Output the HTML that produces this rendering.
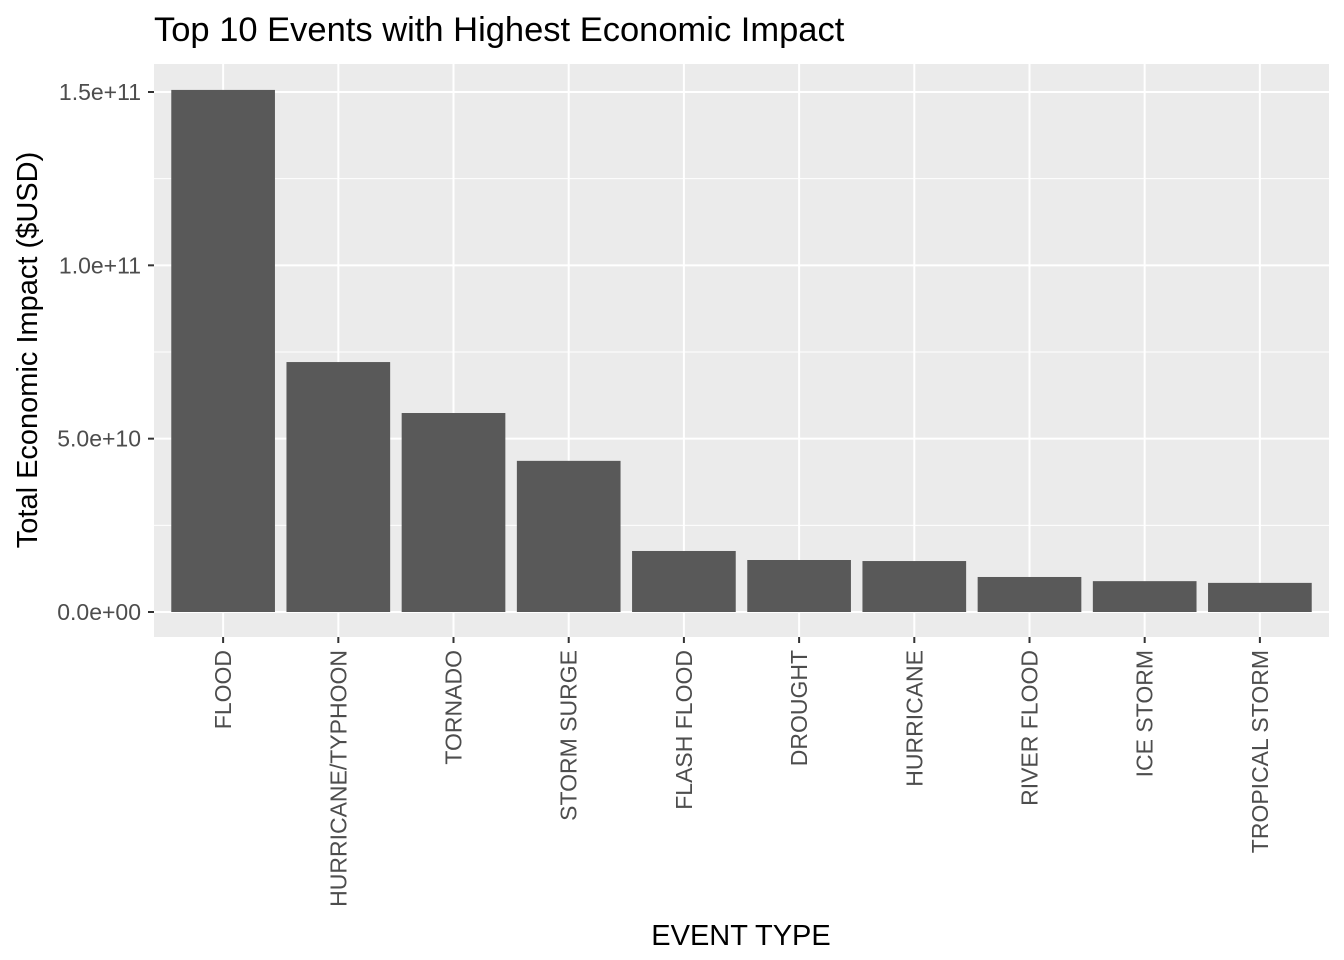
<!DOCTYPE html>
<html><head><meta charset="utf-8"><style>
body{margin:0;background:#fff;}
svg{display:block;font-family:"Liberation Sans",Arial,sans-serif;}
</style></head><body>
<svg id="chart" width="1344" height="960">
<rect width="1344" height="960" fill="#fff"/>
<text x="154" y="41" font-size="34.5" fill="#000">Top 10 Events with Highest Economic Impact</text>
<rect x="154" y="64" width="1175" height="573" fill="#ebebeb"/>
<g id="grid"></g><g id="bars"></g><g id="axes"></g>
<text x="741" y="945" font-size="29" text-anchor="middle" fill="#000">EVENT TYPE</text>
<text transform="translate(37,350) rotate(-90)" font-size="29" text-anchor="middle" fill="#000">Total Economic Impact ($USD)</text>
</svg>
<script>
const categories=["FLOOD","HURRICANE/TYPHOON","TORNADO","STORM SURGE","FLASH FLOOD","DROUGHT","HURRICANE","RIVER FLOOD","ICE STORM","TROPICAL STORM"];
const values=[1.506e11,7.21e10,5.74e10,4.36e10,1.76e10,1.5e10,1.47e10,1.01e10,8.9e9,8.4e9];
const yTicks=[0,5e10,1e11,1.5e11];
const yTickLabels=["0.0e+00","5.0e+10","1.0e+11","1.5e+11"];
const yMinor=[2.5e10,7.5e10,1.25e11];
const NS="http://www.w3.org/2000/svg";
const px0=154,pw=1175,y0=612,yPer=520/1.5e11;
const n=categories.length,unit=pw/(n+0.2);
function xs(i){return px0+(0.6+i)*unit;}
function ys(v){return y0-v*yPer;}
function mk(t,a,p){const e=document.createElementNS(NS,t);for(const k in a)e.setAttribute(k,a[k]);p.appendChild(e);return e;}
const grid=document.getElementById('grid'),bars=document.getElementById('bars'),axes=document.getElementById('axes');
yMinor.forEach(v=>{const l=mk('line',{x1:154,x2:1329,y1:ys(v),y2:ys(v),stroke:'#fff','stroke-width':1},grid);

});
yTicks.forEach((v,i)=>{const y=ys(v);
const l=mk('line',{x1:154,x2:1329,y1:y,y2:y,stroke:'#fff','stroke-width':2},grid);


mk('line',{x1:148,x2:154,y1:y,y2:y,stroke:'#333','stroke-width':2},axes);
const t=mk('text',{x:141,y:y+8,'font-size':23,'text-anchor':'end',fill:'#4d4d4d'},axes);t.textContent=yTickLabels[i];

});
categories.forEach((c,i)=>{const x=xs(i);
const l=mk('line',{x1:x,x2:x,y1:64,y2:637,stroke:'#fff','stroke-width':2},grid);


const w=unit*0.9;
const r=mk('rect',{x:x-w/2,y:ys(values[i]),width:w,height:y0-ys(values[i]),fill:'#595959'},bars);


mk('line',{x1:x,x2:x,y1:637,y2:643,stroke:'#333','stroke-width':2},axes);
const t=mk('text',{transform:`translate(${x+8},650) rotate(-90)`,'font-size':23,'text-anchor':'end',fill:'#4d4d4d'},axes);t.textContent=c;

});
</script>
</body></html>
